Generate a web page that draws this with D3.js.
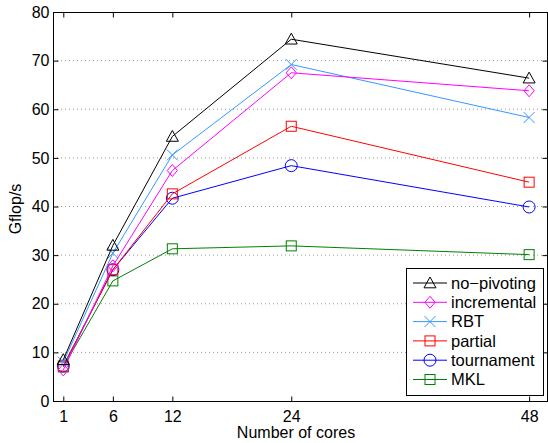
<!DOCTYPE html>
<html>
<head>
<meta charset="utf-8">
<script src="https://cdn.jsdelivr.net/npm/d3@7"></script>
<style>
  body { margin: 0; background: #fff; }
  text { font-family: "Liberation Sans", Arial, sans-serif; fill: #000; }
</style>
</head>
<body>
<div id="chart"></div>
<script>
// cores on x axis
let cores = [1, 6, 12, 24, 48];
let seriesNames = ["no\u2212pivoting", "incremental", "RBT", "partial", "tournament", "MKL"];
let noPivoting = [8.5, 32.0, 54.4, 74.4, 66.4];
let incremental = [6.4, 27.8, 47.4, 67.5, 63.8];
let rbt = [8.0, 30.4, 50.6, 69.2, 58.3];
let partial = [7.2, 27.0, 42.6, 56.5, 45.0];
let tournament = [7.2, 27.0, 41.7, 48.4, 39.9];
let mkl = [7.0, 24.7, 31.3, 31.9, 30.1];
let yTicks = [0, 10, 20, 30, 40, 50, 60, 70, 80];

let colors = ["#000000", "#ff00ff", "#3399ff", "#ff0000", "#0000ff", "#008000"];
let markers = ["triangle", "diamond", "x", "square", "circle", "square"];
let allSeries = [noPivoting, incremental, rbt, partial, tournament, mkl];

let W = 548, H = 443;
let margin = {left: 53, right: 1, top: 12, bottom: 42};

let svg = d3.select("#chart").append("svg")
    .attr("width", W)
    .attr("height", H);

let x = d3.scaleLinear().domain([0, 50.5]).range([53.4, 553.9]);
let y = d3.scaleLinear().domain([0, 80]).range([H - margin.bottom, margin.top]);

let x0 = margin.left, x1 = W - margin.right;
let y0 = H - margin.bottom, y1 = margin.top;

// dotted grid
svg.append("g").selectAll("line")
    .data(yTicks.filter(d => d > 0 && d < 80))
    .enter().append("line")
    .attr("x1", x0).attr("x2", x1)
    .attr("y1", d => y(d)).attr("y2", d => y(d))
    .attr("stroke", "#999")
    .attr("stroke-width", 1)
    .attr("stroke-dasharray", "1,3");

// axes box
svg.append("rect")
    .attr("x", x0 + 0.5).attr("y", y1 + 0.5)
    .attr("width", x1 - x0).attr("height", y0 - y1)
    .attr("fill", "none").attr("stroke", "#000");

// ticks
let yAxisL = d3.axisLeft(y).tickValues(yTicks).tickSizeInner(-5).tickSizeOuter(0).tickPadding(4);
svg.append("g").attr("transform", "translate(" + (x0 + 0.5) + ",0)").call(yAxisL);
let yAxisR = d3.axisRight(y).tickValues(yTicks).tickSizeInner(-5).tickSizeOuter(0).tickFormat("");
svg.append("g").attr("transform", "translate(" + (x1 + 0.5) + ",0)").call(yAxisR);
let xAxisB = d3.axisBottom(x).tickValues(cores).tickSizeInner(-5).tickSizeOuter(0).tickPadding(9);
svg.append("g").attr("transform", "translate(0," + (y0 + 0.5) + ")").call(xAxisB);
let xAxisT = d3.axisTop(x).tickValues(cores).tickSizeInner(-5).tickSizeOuter(0).tickFormat("");
svg.append("g").attr("transform", "translate(0," + (y1 + 0.5) + ")").call(xAxisT);

svg.selectAll(".domain").remove();
svg.selectAll(".tick line").attr("stroke", "#000");
svg.selectAll(".tick text")
    .style("font-family", "'Liberation Sans', Arial, sans-serif")
    .style("font-size", "16px")
    .attr("fill", "#000");

// axis labels
svg.append("text")
    .attr("x", 296).attr("y", 438)
    .attr("text-anchor", "middle")
    .style("font-size", "16px")
    .text("Number of cores");
svg.append("text")
    .attr("transform", "translate(21,209) rotate(-90)")
    .attr("text-anchor", "middle")
    .style("font-size", "16px")
    .text("Gflop/s");

function drawMarker(g, type, cx, cy, color) {
    if (type == "triangle") {
        let s = 6;
        g.append("path")
            .attr("d", "M" + cx + "," + (cy - s) + "L" + (cx + s) + "," + (cy + s * 0.8) + "L" + (cx - s) + "," + (cy + s * 0.8) + "Z")
            .attr("fill", "none").attr("stroke", color);
    } else if (type == "diamond") {
        let s = 6;
        g.append("path")
            .attr("d", "M" + cx + "," + (cy - s) + "L" + (cx + s * 0.85) + "," + cy + "L" + cx + "," + (cy + s) + "L" + (cx - s * 0.85) + "," + cy + "Z")
            .attr("fill", "none").attr("stroke", color);
    } else if (type == "x") {
        let s = 5.5;
        g.append("path")
            .attr("d", "M" + (cx - s) + "," + (cy - s) + "L" + (cx + s) + "," + (cy + s) + "M" + (cx - s) + "," + (cy + s) + "L" + (cx + s) + "," + (cy - s))
            .attr("fill", "none").attr("stroke", color);
    } else if (type == "square") {
        let s = 5;
        g.append("rect")
            .attr("x", cx - s).attr("y", cy - s)
            .attr("width", 2 * s).attr("height", 2 * s)
            .attr("fill", "none").attr("stroke", color);
    } else {
        g.append("circle")
            .attr("cx", cx).attr("cy", cy).attr("r", 6)
            .attr("fill", "none").attr("stroke", color);
    }
}

let line = d3.line().x((d, i) => x(cores[i])).y(d => y(d));

// draw series, last first so no-pivoting sits on top
for (let k = allSeries.length - 1; k >= 0; k--) {
    let g = svg.append("g");
    g.append("path")
        .datum(allSeries[k])
        .attr("d", line)
        .attr("fill", "none")
        .attr("stroke", colors[k])
        .attr("stroke-width", 1);
    allSeries[k].forEach(function(v, i) {
        drawMarker(g, markers[k], x(cores[i]), y(v), colors[k]);
    });
}

// legend
let lg = {x: 406, y: 268, w: 137, h: 127, row: 19.3};
let legend = svg.append("g");
legend.append("rect")
    .attr("x", lg.x + 0.5).attr("y", lg.y + 0.5)
    .attr("width", lg.w).attr("height", lg.h)
    .attr("fill", "#fff").attr("stroke", "#000");
seriesNames.forEach(function(name, k) {
    let cy = lg.y + 15 + k * lg.row;
    legend.append("line")
        .attr("x1", lg.x + 7).attr("x2", lg.x + 41)
        .attr("y1", cy).attr("y2", cy)
        .attr("stroke", colors[k]);
    drawMarker(legend, markers[k], lg.x + 24, cy, colors[k]);
    legend.append("text")
        .attr("x", lg.x + 45).attr("y", cy)
        .attr("dy", "0.35em")
        .style("font-size", "16.5px")
        .text(name);
});
</script>
</body>
</html>
